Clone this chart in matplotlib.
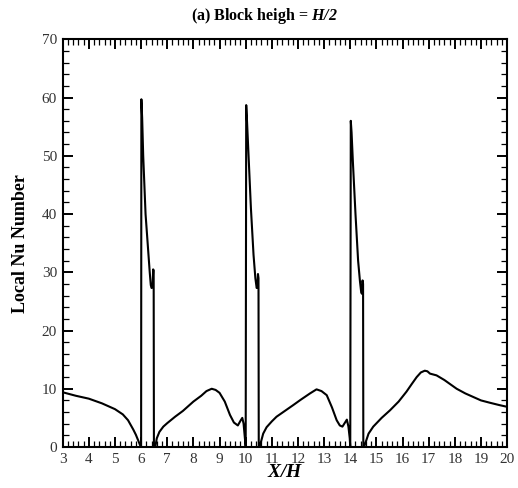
import matplotlib
matplotlib.use('Agg')
import matplotlib.pyplot as plt
from matplotlib.ticker import MultipleLocator

plt.rcParams['font.family'] = ['Liberation Serif', 'DejaVu Serif']
plt.rcParams['mathtext.fontset'] = 'custom'
plt.rcParams['mathtext.it'] = 'Liberation Serif:italic:bold'
plt.rcParams['mathtext.rm'] = 'Liberation Serif:italic:bold'
plt.rcParams['mathtext.bf'] = 'Liberation Serif:italic:bold'

# ---------------- data ----------------
# upstream of block 1
x_up = [3.0, 3.5, 4.0, 4.5, 5.0, 5.3, 5.5, 5.7, 5.8, 5.9, 5.97, 6.0]
nu_up = [9.4, 8.8, 8.3, 7.5, 6.5, 5.6, 4.6, 3.0, 2.1, 1.0, 0.2, 0.0]

# block 1 (6.0 - 6.5)
x_b1 = [6.01, 6.04, 6.08, 6.17, 6.25, 6.33, 6.37, 6.40, 6.44, 6.46, 6.48, 6.49]
nu_b1 = [59.7, 56.5, 50.0, 40.0, 35.0, 30.0, 27.8, 27.3, 27.5, 30.5, 30.3, 0.0]

# cavity 1 (6.5 - 10)
x_c1 = [6.55, 6.6, 6.7, 6.85, 7.0, 7.3, 7.6, 8.0, 8.3, 8.5, 8.7, 8.85, 9.0,
        9.2, 9.4, 9.55, 9.7, 9.8, 9.87, 9.92, 9.97, 10.0]
nu_c1 = [0.2, 1.5, 2.6, 3.5, 4.1, 5.2, 6.2, 7.8, 8.8, 9.6, 10.0, 9.8, 9.3,
         7.8, 5.5, 4.2, 3.7, 4.5, 5.0, 4.0, 1.5, 0.0]

# block 2 (10.0 - 10.5)
x_b2 = [10.02, 10.05, 10.1, 10.2, 10.3, 10.37, 10.42, 10.45, 10.47, 10.49, 10.5]
nu_b2 = [58.7, 56.0, 51.0, 41.0, 33.0, 29.0, 27.3, 27.5, 29.7, 29.0, 0.0]

# cavity 2 (10.5 - 14)
x_c2 = [10.55, 10.67, 10.8, 11.0, 11.18, 11.5, 11.82, 12.1, 12.46, 12.71, 12.9,
        13.1, 13.3, 13.48, 13.6, 13.7, 13.8, 13.87, 13.93, 13.98, 14.0]
nu_c2 = [0.3, 2.3, 3.4, 4.4, 5.2, 6.2, 7.2, 8.1, 9.2, 9.9, 9.6,
         8.9, 6.8, 4.6, 3.7, 3.5, 4.2, 4.7, 3.5, 1.5, 0.0]

# block 3 (14.0 - 14.5)
x_b3 = [14.02, 14.05, 14.1, 14.2, 14.3, 14.37, 14.42, 14.45, 14.47, 14.49, 14.5]
nu_b3 = [56.0, 54.0, 49.0, 40.0, 32.0, 28.5, 26.5, 26.3, 28.6, 28.0, 0.0]

# downstream
x_dn = [14.55, 14.7, 14.88, 15.2, 15.52, 15.85, 16.15, 16.35, 16.54, 16.7, 16.85,
        16.95, 17.05, 17.3, 17.6, 18.07, 18.4, 18.7, 19.0, 19.34, 19.7, 20.0]
nu_dn = [0.3, 2.3, 3.5, 5.0, 6.3, 7.8, 9.5, 10.8, 12.0, 12.8, 13.1,
         13.0, 12.6, 12.3, 11.5, 10.0, 9.2, 8.6, 8.0, 7.6, 7.2, 6.9]

x = x_up + x_b1 + x_c1 + x_b2 + x_c2 + x_b3 + x_dn
nu = nu_up + nu_b1 + nu_c1 + nu_b2 + nu_c2 + nu_b3 + nu_dn

# ---------------- plot ----------------
fig = plt.figure(figsize=(5.18, 4.88), dpi=100)
ax = fig.add_axes([0.121, 0.084, 0.858, 0.8355])

ax.plot(x, nu, color='black', linewidth=1.5)

ax.set_xlim(3, 20)
ax.set_ylim(0, 70)
ax.xaxis.set_major_locator(MultipleLocator(1))
ax.xaxis.set_minor_locator(MultipleLocator(0.2))
ax.yaxis.set_major_locator(MultipleLocator(10))
ax.yaxis.set_minor_locator(MultipleLocator(2))

ax.tick_params(which='both', direction='in', top=True, right=True,
               labelsize=11, pad=4, labelcolor='#333333')
ax.tick_params(which='major', length=7.5, width=1.4)
ax.tick_params(which='minor', length=4.5, width=0.9)
for s in ax.spines.values():
    s.set_linewidth(1.5)

ax.set_xlabel('$X/H$', fontsize=14, labelpad=-1)
ax.set_ylabel('Local Nu Number', fontsize=13, fontweight='bold', labelpad=9)
# title sits a bit left of the axes centre in the original
fig.text(0.51, 0.968, '(a) Block heigh = $H/2$', fontsize=11.5,
         fontweight='bold', ha='center', va='center')

plt.savefig('out.png', dpi=100, facecolor='white')
plt.close()
